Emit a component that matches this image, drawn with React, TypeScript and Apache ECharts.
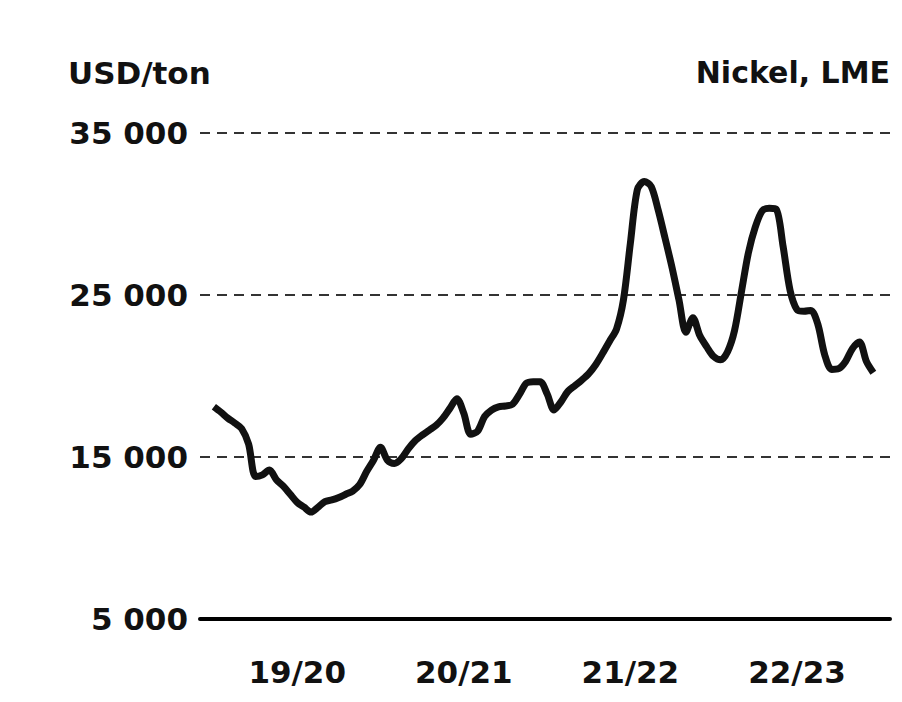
import React, { useEffect, useRef } from "react";
import * as echarts from "echarts";

// Nickel, LME price (USD/ton), half-monthly readings, fiscal years Sep–Aug
const fy1920 = [
  18100, 17770, 17400, 17100, 16750, 15800, 13800, 13900, 14200, 13600, 13200, 12700,
  12200, 11900, 11600, 11900, 12250, 12350, 12500, 12700, 12900, 13300, 14100, 14800,
];
const fy2021 = [
  15600, 14800, 14600, 14900, 15500, 16000, 16350, 16650, 16950, 17400, 18000, 18600,
  17700, 16400, 16600, 17500, 17900, 18100, 18150, 18250, 18850, 19550, 19650, 19650,
];
const fy2122 = [
  18900, 17900, 18400, 19050, 19400, 19750, 20150, 20700, 21400, 22150, 22900, 24700,
  28200, 31500, 32000, 31700, 30250, 28500, 26700, 24700, 22700, 23600, 22500, 21800,
];
const fy2223 = [
  21200, 21000, 21500, 22800, 25200, 27600, 29200, 30200, 30350, 30300, 28000, 25300,
  24100, 24000, 24050, 23200, 21300, 20400, 20450, 20900, 21700, 22100, 20900, 20200,
];
const yearLabels = ["19/20", "20/21", "21/22", "22/23"];
const yearLabelMonths = [6, 18, 30, 42];
const yTicks = [5000, 15000, 25000, 35000];
const unitLabel = "USD/ton";
const titleLabel = "Nickel, LME";

const FONT = "'DejaVu Sans', 'Liberation Sans', sans-serif";

export default function App() {
  const ref = useRef<HTMLDivElement>(null);

  useEffect(() => {
    if (!ref.current) return;
    const chart = echarts.init(ref.current, undefined, { renderer: "svg" });
    const values = [...fy1920, ...fy2021, ...fy2122, ...fy2223];
    const data = values.map((v, i) => [i * 0.5, v]);
    const fmt = (v: number) => String(v).replace(/\B(?=(\d{3})+(?!\d))/g, " ");

    chart.setOption({
      animation: false,
      backgroundColor: "#ffffff",
      grid: { left: 200, right: 12, top: 133, bottom: 83, containLabel: false },
      xAxis: {
        type: "value",
        min: -1,
        max: 48.7,
        axisLine: { show: true, onZero: false, lineStyle: { color: "#000", width: 4 } },
        axisTick: { show: false },
        splitLine: { show: false },
        axisLabel: {
          customValues: yearLabelMonths,
          formatter: (v: number) => {
            const k = yearLabelMonths.indexOf(v);
            return k >= 0 ? yearLabels[k] : "";
          },
          margin: 37,
          color: "#111",
          fontFamily: FONT,
          fontWeight: "bold",
          fontSize: 31,
        },
      },
      yAxis: {
        type: "value",
        min: yTicks[0],
        max: yTicks[yTicks.length - 1],
        interval: 10000,
        axisLine: { show: false },
        axisTick: { show: false },
        splitLine: {
          show: true,
          lineStyle: { color: "#333", width: 2, type: [10, 7] },
        },
        axisLabel: {
          formatter: (v: number) => fmt(v),
          margin: 12,
          color: "#111",
          fontFamily: FONT,
          fontWeight: "bold",
          fontSize: 31,
        },
      },
      graphic: [
        {
          type: "text",
          left: 68,
          top: 57,
          style: { text: unitLabel, fill: "#111", font: `bold 31px ${FONT}` },
        },
        {
          type: "text",
          right: 12,
          top: 57,
          style: { text: titleLabel, fill: "#111", font: `bold 30px ${FONT}` },
        },
      ],
      series: [
        {
          type: "line",
          data,
          showSymbol: false,
          smooth: 0.3,
          lineStyle: { color: "#111", width: 7 },
          z: 5,
        },
      ],
    });
    return () => chart.dispose();
  }, []);

  return (
    <div
      ref={ref}
      style={{ position: "fixed", left: 0, top: 0, width: 902, height: 702, background: "#fff" }}
    />
  );
}
